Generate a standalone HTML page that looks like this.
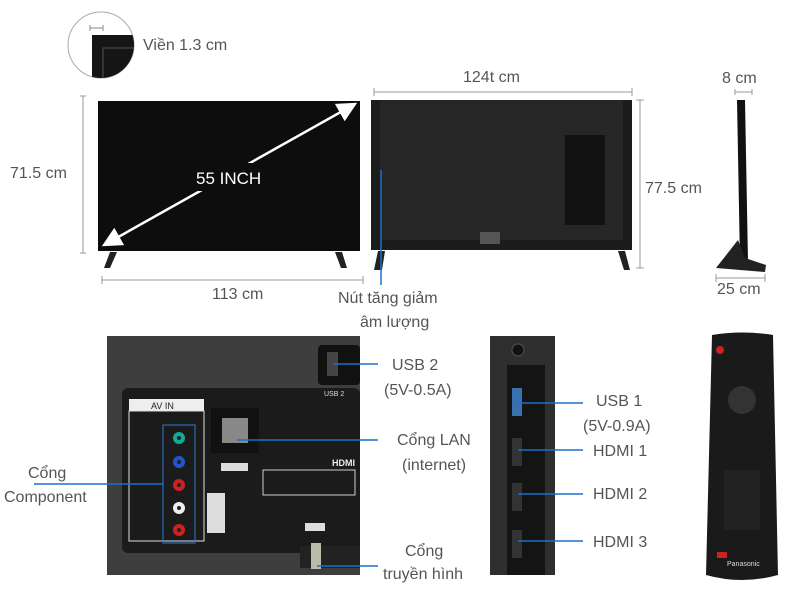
<!DOCTYPE html>
<html><head><meta charset="utf-8"><style>
body{margin:0;width:800px;height:600px;background:#fff;overflow:hidden;font-family:"Liberation Sans","Noto Sans CJK SC",sans-serif}
svg text{font-family:"Liberation Sans","Noto Sans CJK SC",sans-serif;fill:#555;font-size:16px}
</style></head><body>
<svg width="800" height="600" viewBox="0 0 800 600">
<defs><clipPath id="c"><circle cx="101" cy="45" r="33"/></clipPath>
<marker id="a" markerWidth="8" markerHeight="8" refX="7" refY="4" orient="auto"><path d="M0,0 L8,4 L0,8 z" fill="#fff"/></marker>
<marker id="b" markerWidth="8" markerHeight="8" refX="1" refY="4" orient="auto"><path d="M8,0 L0,4 L8,8 z" fill="#fff"/></marker></defs>
<!-- bezel circle -->
<circle cx="101" cy="45" r="33" fill="#fff" stroke="#aaa"/>
<g clip-path="url(#c)"><rect x="92" y="35" width="50" height="50" fill="#151515"/><path d="M103,85 V48 H140" stroke="#555" fill="none"/></g>
<path d="M90,28 H103 M90,25 V31 M103,25 V31" stroke="#888"/>
<text x="143" y="50">Viền 1.3 cm</text>
<!-- front TV -->
<rect x="98" y="101" width="262" height="150" fill="#0d0d0d"/>
<path d="M110,252 L104,268 L110,268 L117,252 Z M335,252 L341,268 L347,268 L342,252 Z" fill="#222"/>
<line x1="104" y1="245" x2="355" y2="104" stroke="#fff" stroke-width="2.5" marker-start="url(#b)" marker-end="url(#a)"/>
<rect x="193" y="163" width="76" height="28" fill="#0d0d0d"/>
<text x="196" y="184" style="fill:#fff;font-size:17px">55 INCH</text>
<path d="M83,96 V253 M80,96 H86 M80,253 H86" stroke="#999"/>
<text x="10" y="178">71.5 cm</text>
<path d="M102,280 H363 M102,276 V284 M363,276 V284" stroke="#999"/>
<text x="212" y="299">113 cm</text>
<!-- back TV -->
<rect x="371" y="100" width="261" height="150" fill="#1c1c1c"/>
<rect x="380" y="100" width="243" height="140" fill="#262626"/>
<rect x="565" y="135" width="40" height="90" fill="#111"/>
<rect x="480" y="232" width="20" height="12" fill="#555"/>
<path d="M378,251 L374,270 L382,270 L385,251 Z M618,251 L624,270 L630,270 L625,251 Z" fill="#222"/>
<path d="M374,92 H632 M374,88 V96 M632,88 V96" stroke="#999"/>
<text x="463" y="82">124t cm</text>
<path d="M640,100 V268 M636,100 H644 M636,268 H644" stroke="#999"/>
<text x="645" y="193">77.5 cm</text>
<path d="M381,170 V285" stroke="#1a6fd0" stroke-width="1.5"/>
<text x="338" y="303">Nút tăng giảm</text>
<text x="360" y="327">âm lượng</text>
<!-- side -->
<path d="M737,100 L745,100 L748,262 L740,262 Z" fill="#111"/>
<path d="M738,240 L716,268 L765,272 L766,265 L745,258 Z" fill="#222"/>
<path d="M735,92 H752 M735,89 V95 M752,89 V95" stroke="#999"/>
<text x="722" y="83">8 cm</text>
<path d="M716,278 H765 M716,274 V282 M765,274 V282" stroke="#999"/>
<text x="717" y="294">25 cm</text>
<!-- port panel -->
<rect x="107" y="336" width="253" height="239" fill="#3e3e3e"/>
<rect x="107" y="336" width="253" height="239" fill="url(#none)"/>
<rect x="122" y="388" width="238" height="165" rx="6" fill="#1b1b1b"/>
<rect x="318" y="345" width="42" height="40" rx="4" fill="#111"/>
<rect x="327" y="352" width="11" height="24" fill="#444"/>
<rect x="129" y="399" width="75" height="12" fill="#eee"/>
<text x="151" y="409" style="fill:#222;font-size:9px">AV IN</text>
<rect x="129" y="411" width="75" height="130" fill="none" stroke="#ddd"/>
<rect x="163" y="425" width="32" height="118" fill="none" stroke="#2d7bd4"/>
<circle cx="179" cy="438" r="6" fill="#1a9"/><circle cx="179" cy="462" r="6" fill="#25c"/>
<circle cx="179" cy="485" r="6" fill="#c22"/><circle cx="179" cy="508" r="6" fill="#eee"/><circle cx="179" cy="530" r="6" fill="#c22"/>
<circle cx="179" cy="438" r="2" fill="#222"/><circle cx="179" cy="462" r="2" fill="#222"/><circle cx="179" cy="485" r="2" fill="#222"/><circle cx="179" cy="508" r="2" fill="#222"/><circle cx="179" cy="530" r="2" fill="#222"/>
<rect x="211" y="408" width="48" height="45" fill="#111"/>
<rect x="222" y="418" width="26" height="25" fill="#888"/>
<rect x="221" y="463" width="27" height="8" fill="#ddd"/>
<rect x="263" y="470" width="92" height="25" fill="none" stroke="#ccc"/>
<text x="332" y="466" style="fill:#eee;font-size:9px;font-weight:bold">HDMI</text>
<rect x="207" y="493" width="18" height="40" fill="#ddd"/>
<rect x="305" y="523" width="20" height="8" fill="#ddd"/>
<rect x="300" y="546" width="60" height="22" fill="#222"/>
<rect x="311" y="543" width="10" height="26" fill="#bba"/>
<text x="324" y="396" style="fill:#ddd;font-size:7px">USB 2</text>
<path d="M333,364 H378 M237,440 H378 M34,484 H163 M317,566 H378" stroke="#1a6fd0" stroke-width="1.5"/>
<text x="392" y="370">USB 2</text><text x="384" y="395">(5V-0.5A)</text>
<text x="397" y="445">Cổng LAN</text><text x="402" y="470">(internet)</text>
<text x="28" y="478">Cổng</text><text x="4" y="502">Component</text>
<text x="405" y="556">Cổng</text><text x="383" y="579">truyền hình</text>
<!-- side ports -->
<rect x="490" y="336" width="65" height="239" fill="#2e2e2e"/>
<rect x="507" y="365" width="38" height="210" fill="#141414"/>
<circle cx="518" cy="350" r="6" fill="#111" stroke="#555"/>
<rect x="512" y="388" width="10" height="28" fill="#3a6fb0"/>
<rect x="512" y="438" width="10" height="28" fill="#333"/><rect x="512" y="483" width="10" height="28" fill="#333"/><rect x="512" y="530" width="10" height="28" fill="#333"/>
<path d="M518,403 H583 M518,450 H583 M518,494 H583 M518,541 H583" stroke="#1a6fd0" stroke-width="1.5"/>
<text x="596" y="406">USB 1</text><text x="583" y="431">(5V-0.9A)</text>
<text x="593" y="456">HDMI 1</text><text x="593" y="499">HDMI 2</text><text x="593" y="547">HDMI 3</text>
<!-- remote -->
<path d="M712,335 Q742,330 773,335 L778,575 Q742,585 706,575 Z" fill="#1a1a1a"/>
<circle cx="720" cy="350" r="4" fill="#c22"/>
<circle cx="742" cy="400" r="14" fill="#333"/>
<rect x="724" y="470" width="36" height="60" fill="#222"/>
<rect x="717" y="552" width="10" height="6" fill="#c22"/>
<text x="727" y="566" style="fill:#ddd;font-size:7px">Panasonic</text>
</svg>
</body></html>
